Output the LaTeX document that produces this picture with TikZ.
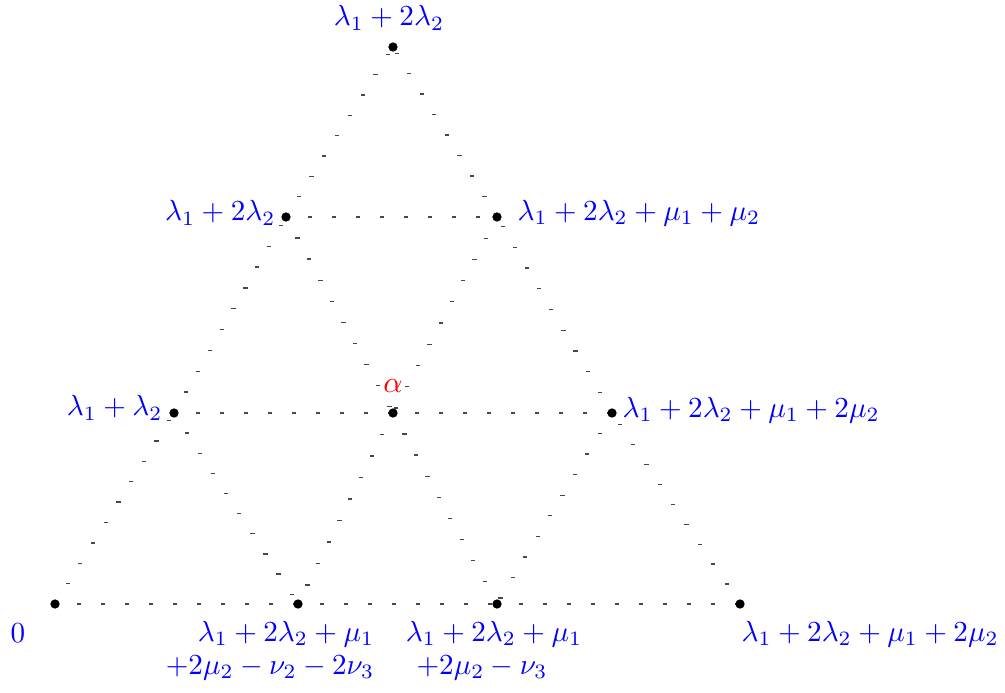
\documentclass[tikz,border=0pt]{standalone}
\usetikzlibrary{decorations.markings,backgrounds}
\begin{document}
\begin{tikzpicture}[x=0.3333pt,y=-0.3333pt,
  dot/.style={circle,fill=black,inner sep=0pt,minimum size=3.1pt},
  lbl/.style={text=blue,inner sep=0pt,scale=0.97},
  dashmark/.style={fill=black!72,inner sep=0pt,minimum width=1.4pt,minimum height=0.45pt,draw=none},
  gridline/.style={postaction={decorate},decoration={markings,mark=between positions 0 and 1 step 8pt with {\node[dashmark]{};}}}]
\useasboundingbox (0,0) rectangle (1005,692);
% dots
\node[dot] (o) at (55,604) {};
\node[dot] (b1) at (298,604) {};
\node[dot] (b2) at (497,604) {};
\node[dot] (b3) at (740,604) {};
\node[dot] (m1) at (174,413) {};
\node[dot] (m2) at (393,413) {};
\node[dot] (m3) at (612,413) {};
\node[dot] (u1) at (286,217) {};
\node[dot] (u2) at (497,217) {};
\node[dot] (t) at (393,47) {};
% grid lines
\begin{scope}[on background layer]
\path[gridline] (o.center) -- (b1.center);
\path[gridline] (b1.center) -- (b2.center);
\path[gridline] (b2.center) -- (b3.center);
\path[gridline] (m1.center) -- (m2.center);
\path[gridline] (m2.center) -- (m3.center);
\path[gridline] (u1.center) -- (u2.center);
\path[gridline] (o.center) -- (m1.center);
\path[gridline] (m1.center) -- (u1.center);
\path[gridline] (u1.center) -- (t.center);
\path[gridline] (b3.center) -- (m3.center);
\path[gridline] (m3.center) -- (u2.center);
\path[gridline] (u2.center) -- (t.center);
\path[gridline] (u1.center) -- (m2.center);
\path[gridline] (m2.center) -- (b2.center);
\path[gridline] (u2.center) -- (m2.center);
\path[gridline] (m2.center) -- (b1.center);
\path[gridline] (m1.center) -- (b1.center);
\path[gridline] (m3.center) -- (b2.center);
\end{scope}
% labels
\node[lbl] (lt) at (389,18) {$\lambda_1+2\lambda_2$};
\node[lbl,anchor=east] (lu1) at (276,213) {$\lambda_1+2\lambda_2$};
\node[lbl,anchor=west] (lu2) at (517,213) {$\lambda_1+2\lambda_2+\mu_1+\mu_2$};
\node[lbl,anchor=east] (lm1) at (163,408) {$\lambda_1+\lambda_2$};
\node[text=red,inner sep=0pt] (la) at (393,386) {$\alpha$};
\node[lbl,anchor=west] (lm3) at (622,410) {$\lambda_1+2\lambda_2+\mu_1+2\mu_2$};
\node[lbl] (lo) at (18,633) {$0$};
\node[lbl] (lb1a) at (286,634) {$\lambda_1+2\lambda_2+\mu_1$};
\node[lbl] (lb1b) at (270,668) {$+2\mu_2-\nu_2-2\nu_3$};
\node[lbl] (lb2a) at (494,634) {$\lambda_1+2\lambda_2+\mu_1$};
\node[lbl] (lb2b) at (482,668) {$+2\mu_2-\nu_3$};
\node[lbl,anchor=west] (lb3) at (741,634) {$\lambda_1+2\lambda_2+\mu_1+2\mu_2$};
\end{tikzpicture}
\end{document}
